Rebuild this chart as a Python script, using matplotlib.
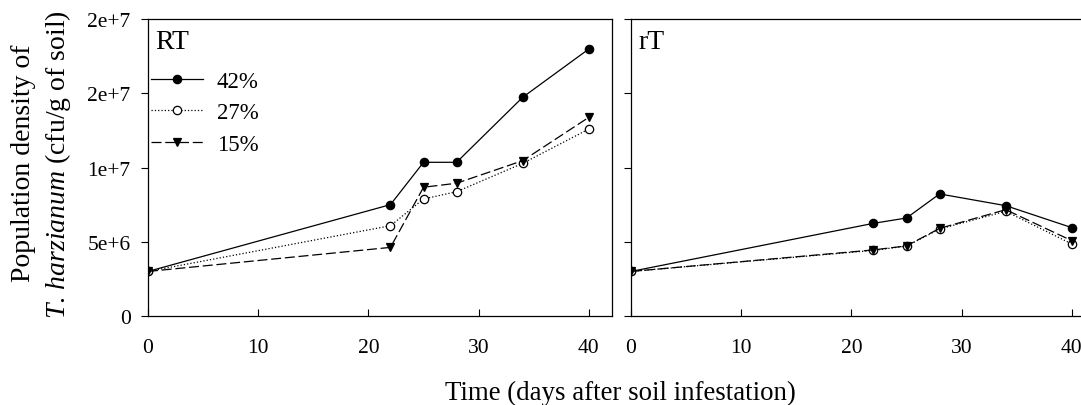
import matplotlib
matplotlib.use("Agg")
import matplotlib.pyplot as plt

plt.rcParams['font.family'] = ['Liberation Serif', 'DejaVu Serif']
plt.rcParams['mathtext.fontset'] = 'custom'
plt.rcParams['mathtext.it'] = 'Liberation Serif:italic'
plt.rcParams['mathtext.rm'] = 'Liberation Serif'

days = [0, 22, 25, 28, 34, 40]
series_labels = ['42%', '27%', '15%']

rt_42 = [3.0e6, 7.5e6, 1.035e7, 1.035e7, 1.473e7, 1.798e7]
rt_27 = [3.0e6, 6.08e6, 7.88e6, 8.37e6, 1.028e7, 1.259e7]
rt_15 = [3.0e6, 4.62e6, 8.67e6, 8.94e6, 1.046e7, 1.338e7]

rT_42 = [3.0e6, 6.24e6, 6.6e6, 8.22e6, 7.43e6, 5.95e6]
rT_27 = [3.0e6, 4.42e6, 4.71e6, 5.86e6, 7.05e6, 4.85e6]
rT_15 = [3.0e6, 4.45e6, 4.72e6, 5.9e6, 7.16e6, 5.07e6]

yticks = [0, 5e6, 1e7, 1.5e7, 2e7]
ytick_labels = ['0', '5e+6', '1e+7', '2e+7', '2e+7']
xticks = [0, 10, 20, 30, 40]

styles = [
    dict(linestyle='-', marker='o', markerfacecolor='black'),
    dict(linestyle=':', marker='o', markerfacecolor='white'),
    dict(linestyle=(0, (8, 3)), marker='v', markerfacecolor='black'),
]

W, H = 1081, 406
fig = plt.figure(figsize=(W / 100, H / 100), dpi=100)
ax1 = fig.add_axes([148 / W, (H - 317) / H, 464 / W, 297 / H])
ax2 = fig.add_axes([631 / W, (H - 317) / H, 464 / W, 297 / H])

for ax, data, tag in [(ax1, [rt_42, rt_27, rt_15], 'RT'), (ax2, [rT_42, rT_27, rT_15], 'rT')]:
    for vals, st, lab in zip(data, styles, series_labels):
        ax.plot(days, vals, color='black', linewidth=0.9, markersize=6,
                markeredgecolor='black', markeredgewidth=0.9, label=lab, **st)
    ax.set_xlim(0, 42.1)
    ax.set_ylim(0, 2e7)
    ax.set_xticks(xticks)
    ax.set_yticks(yticks)
    ax.tick_params(axis='x', direction='in', length=5, labelsize=15.5, pad=15.5)
    ax.tick_params(axis='y', direction='out', length=5, labelsize=15.5, pad=7.5)
    for s in ax.spines.values():
        s.set_linewidth(0.9)
    ax.text(0.016, 0.966, tag, transform=ax.transAxes, fontsize=20, va='top', ha='left')

ax1.set_yticklabels(ytick_labels)
ax2.set_yticklabels([])
ax2.set_xticklabels([str(t) for t in xticks])

ax1.legend(loc='upper left', bbox_to_anchor=(3 / 464, 0.825), frameon=False, fontsize=16.5,
           handlelength=2.27, handletextpad=0.6, labelspacing=0.45, borderaxespad=0,
           borderpad=0)

fig.text(24 / W, 1 - 163 / H, 'Population density of', rotation=90, fontsize=20,
         ha='center', va='center')
fig.text(58 / W, 1 - 165 / H, r'$T.\,harzianum$ (cfu/g of soil)', rotation=90, fontsize=20,
         ha='center', va='center')
fig.text(620 / W, 1 - 393 / H, 'Time (days after soil infestation)', fontsize=19.4,
         ha='center', va='center')

fig.savefig('out.png', dpi=100)
